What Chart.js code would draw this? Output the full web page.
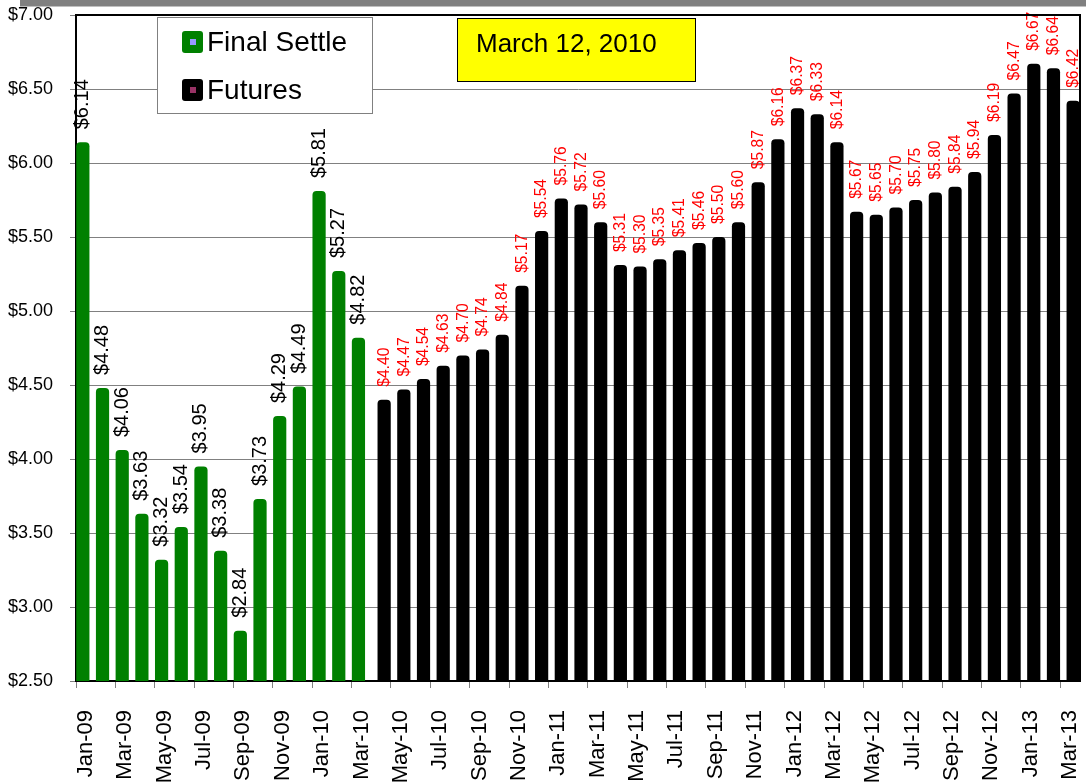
<!DOCTYPE html>
<html lang="en">
<head>
    <meta charset="UTF-8">
    <title>Final Settle vs Futures</title>
    <script src="https://cdn.jsdelivr.net/npm/chart.js"></script>
    <style>
        body {
            margin: 0;
            background-color: #ffffff;
        }

        #chart-container {
            width: 1086px;
            height: 782px;
        }
    </style>
</head>
<body>
    <div id="chart-container">
        <canvas id="priceChart"></canvas>
    </div>

    <script>
        const months = [
            'Jan-09', 'Feb-09', 'Mar-09', 'Apr-09', 'May-09', 'Jun-09', 'Jul-09', 'Aug-09', 'Sep-09', 'Oct-09', 'Nov-09', 'Dec-09',
            'Jan-10', 'Feb-10', 'Mar-10', 'Apr-10', 'May-10', 'Jun-10', 'Jul-10', 'Aug-10', 'Sep-10', 'Oct-10', 'Nov-10', 'Dec-10',
            'Jan-11', 'Feb-11', 'Mar-11', 'Apr-11', 'May-11', 'Jun-11', 'Jul-11', 'Aug-11', 'Sep-11', 'Oct-11', 'Nov-11', 'Dec-11',
            'Jan-12', 'Feb-12', 'Mar-12', 'Apr-12', 'May-12', 'Jun-12', 'Jul-12', 'Aug-12', 'Sep-12', 'Oct-12', 'Nov-12', 'Dec-12',
            'Jan-13', 'Feb-13', 'Mar-13'
        ];

        // Jan-09 .. Mar-10
        const finalSettle = [6.14, 4.48, 4.06, 3.63, 3.32, 3.54, 3.95, 3.38, 2.84, 3.73, 4.29, 4.49, 5.81, 5.27, 4.82];

        // Apr-10 .. Mar-13
        const futures = [
            4.40, 4.47, 4.54, 4.63, 4.70, 4.74, 4.84, 5.17, 5.54, 5.76, 5.72, 5.60,
            5.31, 5.30, 5.35, 5.41, 5.46, 5.50, 5.60, 5.87, 6.16, 6.37, 6.33, 6.14,
            5.67, 5.65, 5.70, 5.75, 5.80, 5.84, 5.94, 6.19, 6.47, 6.67, 6.64, 6.42
        ];

        const reportDate = 'March 12, 2010';

        const FONT = '"Liberation Sans", Arial, sans-serif';

        // pad each series out to the full month axis
        const settleData = months.map((m, i) => i < finalSettle.length ? finalSettle[i] : null);
        const futuresData = months.map((m, i) => i < finalSettle.length ? null : futures[i - finalSettle.length]);

        // keep chart.js from adding its own room for the edge labels
        function noScalePadding(scale) {
            scale.paddingLeft = 0;
            scale.paddingRight = 0;
            scale.paddingTop = 0;
            scale.paddingBottom = 0;
        }

        const valueLabels = {
            id: 'valueLabels',
            afterDatasetsDraw(chart, args, opts) {
                const ctx = chart.ctx;
                chart.data.datasets.forEach((ds, di) => {
                    const style = opts.styles[di];
                    chart.getDatasetMeta(di).data.forEach((bar, i) => {
                        const v = ds.data[i];
                        if (v == null) return;
                        ctx.save();
                        ctx.translate(bar.x, bar.y - 13);
                        ctx.rotate(-Math.PI / 2);
                        ctx.scale(style.squeeze, 1);
                        ctx.font = style.size + 'px ' + FONT;
                        ctx.fillStyle = style.color;
                        ctx.textAlign = 'left';
                        ctx.textBaseline = 'middle';
                        ctx.fillText('$' + v.toFixed(2), 0, 0);
                        ctx.restore();
                    });
                });
            }
        };

        const decorations = {
            id: 'decorations',
            beforeDraw(chart) {
                const ctx = chart.ctx;
                ctx.save();
                ctx.fillStyle = '#808080';
                ctx.fillRect(20, 0, chart.width - 20, 6.5);
                ctx.restore();
            },
            afterDraw(chart) {
                const ctx = chart.ctx;
                const a = chart.chartArea;
                ctx.save();

                // top and right frame
                ctx.strokeStyle = '#000';
                ctx.lineWidth = 2;
                ctx.beginPath();
                ctx.moveTo(a.left, a.top);
                ctx.lineTo(a.right, a.top);
                ctx.lineTo(a.right, a.bottom);
                ctx.stroke();

                // legend box
                ctx.fillStyle = '#fff';
                ctx.fillRect(157, 17, 215, 96);
                ctx.strokeStyle = '#808080';
                ctx.lineWidth = 1;
                ctx.strokeRect(157.5, 17.5, 215, 96);

                const inner = ['#9999ff', '#993366'];
                const rowsY = [42, 90];
                chart.data.datasets.forEach((ds, di) => {
                    const y = rowsY[di];
                    ctx.fillStyle = ds.backgroundColor;
                    ctx.beginPath();
                    ctx.roundRect(182, y - 11, 21, 22, 3);
                    ctx.fill();
                    ctx.fillStyle = inner[di];
                    ctx.fillRect(190, y - 3, 6, 6);
                    ctx.fillStyle = '#000';
                    ctx.font = '28px ' + FONT;
                    ctx.textAlign = 'left';
                    ctx.textBaseline = 'middle';
                    ctx.fillText(ds.label, 207, y + 1);
                });

                // date box
                ctx.fillStyle = '#ffff00';
                ctx.fillRect(457, 18, 238, 63);
                ctx.strokeStyle = '#000';
                ctx.strokeRect(457.5, 18.5, 238, 63);
                ctx.fillStyle = '#000';
                ctx.font = '26px ' + FONT;
                ctx.textBaseline = 'middle';
                ctx.fillText(reportDate, 476, 45);

                ctx.restore();
            }
        };

        const config = {
            type: 'bar',
            data: {
                labels: months,
                datasets: [
                    {
                        label: 'Final Settle',
                        data: settleData,
                        backgroundColor: '#008000',
                        borderRadius: 4
                    },
                    {
                        label: 'Futures',
                        data: futuresData,
                        backgroundColor: '#000000',
                        borderRadius: 4
                    }
                ]
            },
            options: {
                responsive: true,
                maintainAspectRatio: false,
                animation: false,
                categoryPercentage: 0.61,
                barPercentage: 2.2,
                layout: {
                    padding: { top: 15, right: 6, left: 0, bottom: 0 }
                },
                plugins: {
                    legend: { display: false },
                    tooltip: { enabled: false },
                    valueLabels: {
                        styles: [
                            { color: '#000000', size: 20, squeeze: 1 },
                            { color: '#ff0000', size: 17, squeeze: 0.92 }
                        ]
                    }
                },
                scales: {
                    x: {
                        afterFit(scale) {
                            scale.height = 101;
                            noScalePadding(scale);
                        },
                        grid: {
                            offset: true,
                            drawOnChartArea: false,
                            tickLength: 7,
                            color: ctx => ctx.index % 2 === 0 ? '#808080' : 'rgba(0,0,0,0)'
                        },
                        border: { color: '#000', width: 2 },
                        ticks: {
                            autoSkip: false,
                            minRotation: 90,
                            maxRotation: 90,
                            padding: 22,
                            color: '#000',
                            font: { family: FONT, size: 22 },
                            callback: (v, i) => i % 2 === 0 ? months[i] : ''
                        }
                    },
                    y: {
                        min: 2.5,
                        max: 7,
                        afterFit(scale) {
                            scale.width = 76;
                            noScalePadding(scale);
                        },
                        grid: { color: '#808080', tickLength: 6 },
                        border: { color: '#000', width: 2 },
                        ticks: {
                            stepSize: 0.5,
                            padding: 17,
                            color: '#000',
                            font: { family: FONT, size: 18 },
                            callback: v => '$' + v.toFixed(2)
                        }
                    }
                }
            },
            plugins: [valueLabels, decorations]
        };

        const priceChart = new Chart(document.getElementById('priceChart').getContext('2d'), config);
    </script>
</body>
</html>
